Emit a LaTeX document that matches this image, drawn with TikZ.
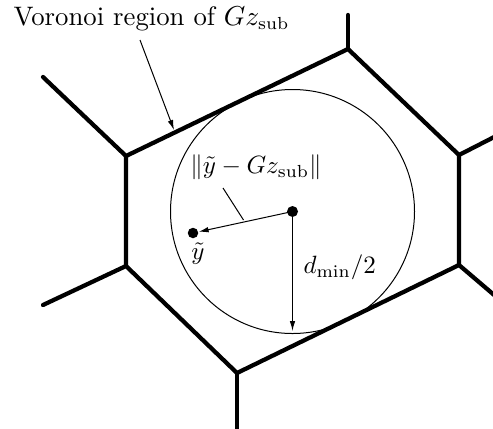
\documentclass[tikz,border=0pt]{standalone}
\usetikzlibrary{arrows.meta}
\begin{document}
\begin{tikzpicture}[x=0.4pt,y=-0.4pt,
  wall/.style={line width=1.7pt,line cap=round,line join=miter},
  thinline/.style={line width=0.4pt},
  ptr/.style={line width=0.4pt,-{Latex[length=4pt,width=2.2pt]}},
  dotnode/.style={circle,fill=black,inner sep=0pt,minimum size=4.4pt},
  lbl/.style={inner sep=0pt,font=\normalsize}]
\useasboundingbox (0,0) rectangle (493,428);
% hexagon vertices
\coordinate (T) at (348,49);
\coordinate (UL) at (126,156);
\coordinate (LL) at (126,266);
\coordinate (B) at (237,373);
\coordinate (LR) at (459,265);
\coordinate (UR) at (459,155);
% outer ends
\coordinate (Te) at (348,15);
\coordinate (ULe) at (43,77);
\coordinate (LLe) at (43,305);
\coordinate (Be) at (237,440);
\coordinate (LRe) at (500,300);
\coordinate (URe) at (500,134);
\begin{scope}
\clip (0,0) rectangle (493,428);
\draw[wall] (T) -- (UL) -- (LL) -- (B) -- (LR) -- (UR) -- cycle;
\draw[wall] (T) -- (Te);
\draw[wall] (UL) -- (ULe);
\draw[wall] (LL) -- (LLe);
\draw[wall] (B) -- (Be);
\draw[wall] (LR) -- (LRe);
\draw[wall] (UR) -- (URe);
\end{scope}
% circle
\node[dotnode] (c) at (292.5,211.5) {};
\draw[thinline] (c.center) circle [radius=122];
\node[dotnode,minimum size=4.2pt] (y) at (193,233) {};
\coordinate (bot) at (292.5,331);
\draw[ptr] (c.center) -- (y);
\draw[ptr] (c.center) -- (bot);
% labels
\node[lbl,anchor=base west,font=\fontsize{10.7}{12.8}\selectfont] (vor) at (13,25) {Voronoi region of $Gz_{\mathrm{sub}}$};
\coordinate (vs) at (140,40);
\coordinate (ve) at (174,130);
\draw[ptr] (vs) -- (ve);
\node[lbl] (norm) at (256,167) {$\|\tilde{y}-Gz_{\mathrm{sub}}\|$};
\coordinate (ns) at (223,188);
\coordinate (ne) at (243.5,220);
\draw[thinline] (ns) -- (ne);
\node[lbl] (ylab) at (198,254) {$\tilde{y}$};
\node[lbl,anchor=west] (dlab) at (303,267) {$d_{\min}/2$};
\end{tikzpicture}
\end{document}
